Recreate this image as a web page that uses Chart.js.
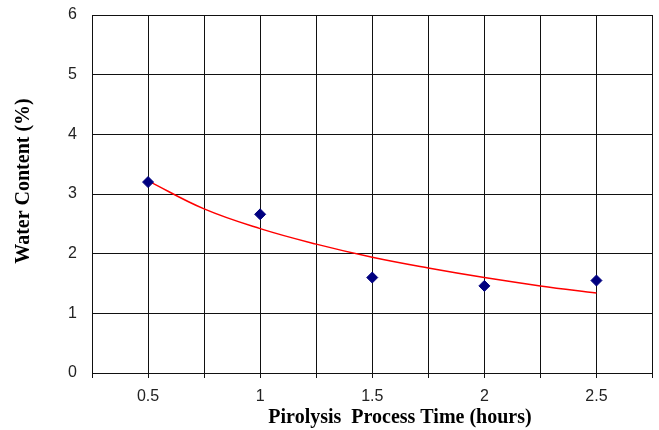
<!DOCTYPE html>
<html>
<head>
<meta charset="utf-8">
<script src="https://cdn.jsdelivr.net/npm/chart.js@4.4.0/dist/chart.umd.min.js"></script>
<style>
  html, body { margin: 0; padding: 0; background: #fff; }
  #wrap { width: 659px; height: 430px; position: relative; }
</style>
</head>
<body>
<div id="wrap"><canvas id="waterChart"></canvas></div>
<script>
// measured points (hours, %)
const timeHours = [0.5, 1, 1.5, 2, 2.5];
const waterContent = [3.2, 2.66, 1.6, 1.46, 1.55];

// red trend curve
const trendHours = [0.5, 0.75, 1, 1.25, 1.5, 1.75, 2, 2.25, 2.5];
const trendValues = [3.22, 2.75, 2.42, 2.16, 1.94, 1.76, 1.6, 1.46, 1.34];

const xLabels = ["0.5", "1", "1.5", "2", "2.5"];
const yTicks = [0, 1, 2, 3, 4, 5, 6];

const xTitle = "Pirolysis  Process Time (hours)";
const yTitle = "Water Content (%)";

const pointsData = timeHours.map((t, i) => ({ x: t, y: waterContent[i] }));
const trendData = trendHours.map((t, i) => ({ x: t, y: trendValues[i] }));

// axis titles drawn by hand so they sit where the original has them
const axisTitles = {
    id: "axisTitles",
    afterDraw(chart) {
        const c = chart.ctx;
        c.save();
        c.fillStyle = "#000";
        c.font = "bold 20px 'Liberation Serif', 'Times New Roman', serif";
        c.textAlign = "center";
        c.textBaseline = "middle";
        c.fillText(xTitle, 400, 418);
        c.translate(24, 181);
        c.rotate(-Math.PI / 2);
        c.fillText(yTitle, 0, 0);
        c.restore();
    }
};

new Chart(document.getElementById("waterChart"), {
    type: "scatter",
    data: {
        datasets: [{
            label: "Water content",
            data: pointsData,
            showLine: false,
            pointStyle: "rectRot",
            pointRadius: 5.5,
            pointHoverRadius: 5.5,
            backgroundColor: "#000080",
            borderColor: "#000080",
            borderWidth: 1
        }, {
            label: "Trend",
            data: trendData,
            showLine: true,
            pointRadius: 0,
            borderColor: "#ff0000",
            borderWidth: 1.5,
            tension: 0.4,
            fill: false
        }]
    },
    options: {
        responsive: true,
        maintainAspectRatio: false,
        animation: false,
        layout: { padding: { top: 15, right: 5, left: 0, bottom: 0 } },
        plugins: {
            legend: { display: false },
            tooltip: { enabled: false }
        },
        scales: {
            x: {
                type: "linear",
                min: 0.25,
                max: 2.75,
                afterBuildTicks: (s) => {
                    s.ticks = [];
                    for (let i = 0; i <= 10; i++) s.ticks.push({ value: 0.25 + i * 0.25 });
                },
                afterFit: (s) => {
                    s.height = 57;
                    s.paddingLeft = 0;
                    s.paddingRight = 0;
                },
                grid: { color: "#111", lineWidth: 1, drawTicks: true, tickLength: 5, tickColor: "#111" },
                border: { color: "#111", width: 1 },
                ticks: {
                    autoSkip: false,
                    maxRotation: 0,
                    padding: 9,
                    color: "#222",
                    font: { family: "'Liberation Sans', Arial, sans-serif", size: 16 },
                    callback: (v) => {
                        const i = timeHours.indexOf(Math.round(v * 100) / 100);
                        return i >= 0 ? xLabels[i] : "";
                    }
                }
            },
            y: {
                min: 0,
                max: 6,
                afterBuildTicks: (s) => { s.ticks = yTicks.map(v => ({ value: v })); },
                afterFit: (s) => {
                    s.width = 92;
                    s.paddingTop = 0;
                    s.paddingBottom = 0;
                },
                grid: { color: "#111", lineWidth: 1, drawTicks: false },
                border: { color: "#111", width: 1 },
                ticks: {
                    padding: 15,
                    color: "#222",
                    font: { family: "'Liberation Sans', Arial, sans-serif", size: 16 }
                }
            }
        }
    },
    plugins: [axisTitles]
});
</script>
</body>
</html>
